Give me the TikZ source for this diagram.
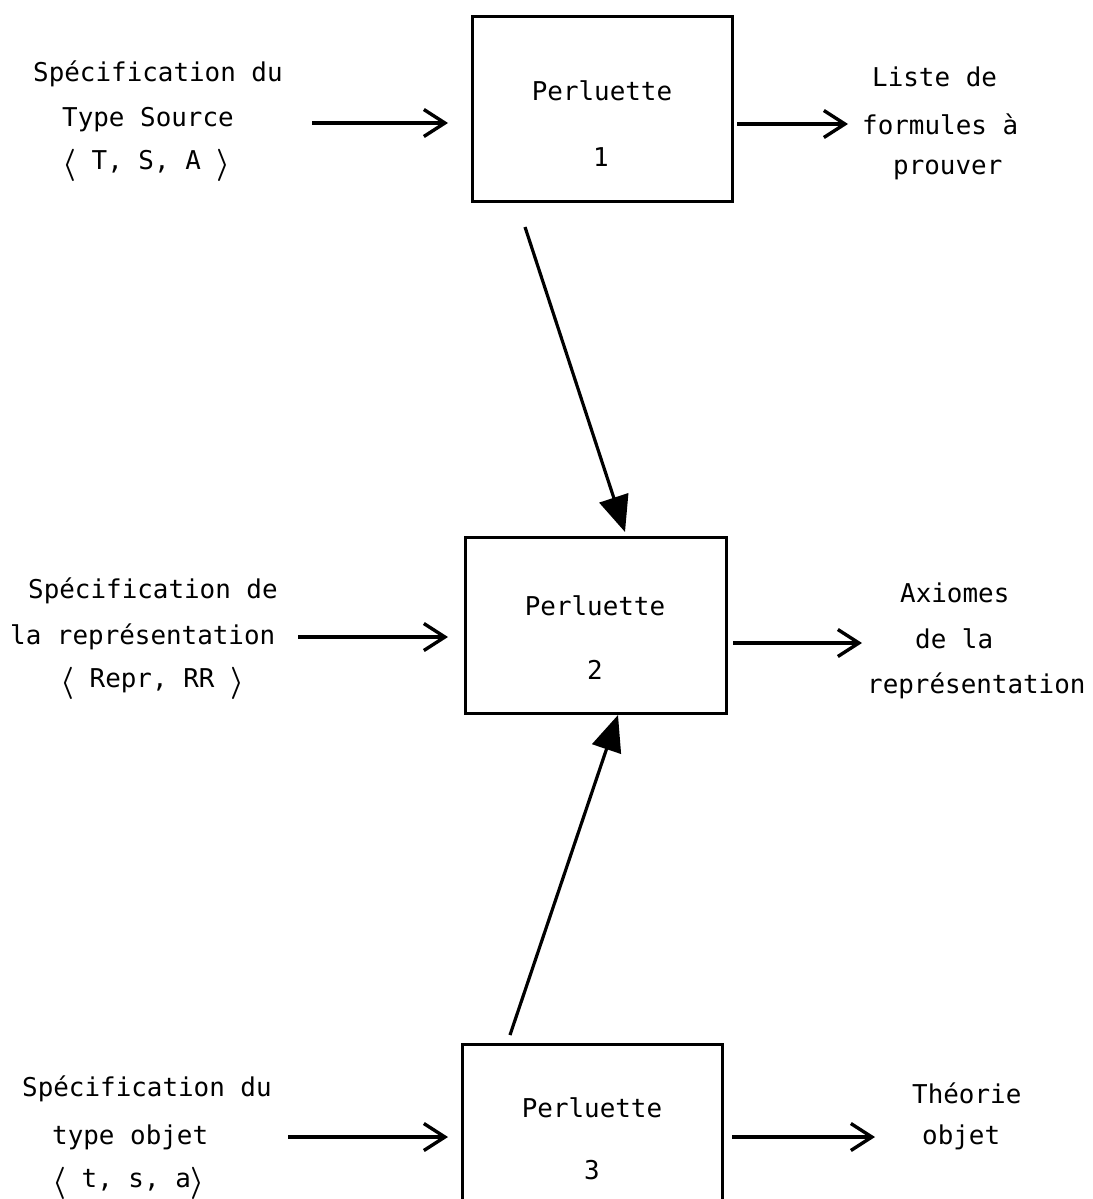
\documentclass[tikz,border=0pt]{standalone}
\usepackage{fontspec}
\usepackage{graphicx}
\setmonofont{DejaVu Sans Mono}
\usetikzlibrary{arrows.meta}
\begin{document}
\begin{tikzpicture}[x=1pt,y=-1pt,
  lbl/.style={font=\ttfamily\fontsize{25.9}{30}\selectfont, inner sep=0pt, anchor=west},
  boxnode/.style={draw, line width=3.4pt, minimum width=#1, inner sep=0pt, anchor=north west},
  harr/.style={line width=3.2pt, -{Straight Barb[length=21pt,width=27pt,line width=3.4pt]}},
  darr/.style={line width=3.2pt, -{Triangle[length=36pt,width=30pt]}}]
\clip (0,0) rectangle (1092,1199);
\fill[white] (0,0) rectangle (1092,1199);
\newcommand{\lang}{\raisebox{-0.12em}{\scalebox{1.25}[1.3]{\boldmath$\langle$}}}
\newcommand{\rang}{\raisebox{-0.12em}{\scalebox{1.25}[1.3]{\boldmath$\rangle$}}}
% boxes
\node[boxnode=260pt, minimum height=185pt] (b1) at (471,15) {};
\node[boxnode=261pt, minimum height=176pt] (b2) at (464,536) {};
\node[boxnode=260pt, minimum height=220pt] (b3) at (461,1043) {};
% box texts
\node[lbl, anchor=center] (b1a) at (602,91) {Perluette};
\node[lbl, anchor=center] (b1b) at (601,157) {1};
\node[lbl, anchor=center] (b2a) at (595,606) {Perluette};
\node[lbl, anchor=center] (b2b) at (595,670) {2};
\node[lbl, anchor=center] (b3a) at (592,1108) {Perluette};
\node[lbl, anchor=center] (b3b) at (592,1170) {3};
% row 1 left
\node[lbl] (l1a) at (33,74) {Spécification du};
\node[lbl] (l1b) at (62,120) {Type Source};
\node[lbl] (l1c) at (62,165) {\lang{} T, S, A \rang};
% row 1 right
\node[lbl] (r1a) at (872,77) {Liste de};
\node[lbl] (r1b) at (862,124) {formules à};
\node[lbl] (r1c) at (893,170) {prouver};
% row 2 left
\node[lbl] (l2a) at (28,591) {Spécification de};
\node[lbl] (l2b) at (10,637) {la représentation};
\node[lbl] (l2c) at (60,683) {\lang{} Repr, RR \rang};
% row 2 right
\node[lbl] (r2a) at (900,593) {Axiomes};
\node[lbl] (r2b) at (915,639) {de la};
\node[lbl] (r2c) at (867,686) {représentation};
% row 3 left
\node[lbl] (l3a) at (22,1089) {Spécification du};
\node[lbl] (l3b) at (52,1137) {type objet};
\node[lbl] (l3c) at (52,1183) {\lang{} t, s, a\rang};
% row 3 right
\node[lbl] (r3a) at (912,1093) {Théorie};
\node[lbl] (r3b) at (922,1137) {objet};
% arrow end points
\coordinate (i1) at (312,123);
\coordinate (i2) at (298,637);
\coordinate (i3) at (288,1137);
\coordinate (o1s) at (737,124);
\coordinate (o1e) at (848,124);
\coordinate (o2s) at (733,643);
\coordinate (o2e) at (862,643);
\coordinate (o3s) at (732,1137);
\coordinate (o3e) at (875,1137);
\coordinate (d1s) at (525,227);
\coordinate (d1e) at (625,532);
\coordinate (d2s) at (510,1035);
\coordinate (d2e) at (618,715);
% arrows
\draw[harr, shorten >=23pt] (i1) -- (i1 -| b1.west);
\draw[harr, shorten >=16pt] (i2) -- (i2 -| b2.west);
\draw[harr, shorten >=13pt] (i3) -- (i3 -| b3.west);
\draw[harr] (o1s) -- (o1e);
\draw[harr] (o2s) -- (o2e);
\draw[harr] (o3s) -- (o3e);
\draw[darr] (d1s) -- (d1e);
\draw[darr] (d2s) -- (d2e);
\end{tikzpicture}
\end{document}
